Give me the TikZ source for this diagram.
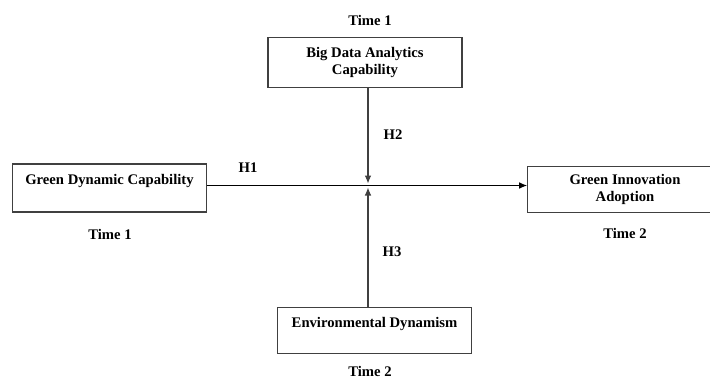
\documentclass[tikz,border=0pt]{standalone}
\usepackage{fontspec}
\setmainfont{Liberation Serif}
\usetikzlibrary{arrows.meta}

\begin{document}
\begin{tikzpicture}[x=0.75pt, y=-0.75pt, >={Latex[length=6pt, width=5pt]},
	every node/.style={font=\fontsize{11}{12.5}\selectfont\bfseries},
	construct/.style={draw=black!75, thick, rectangle, align=center, inner sep=2pt}]
	\useasboundingbox (0,0) rectangle (710,380);
	% constructs
	\node[construct, minimum width=145pt, minimum height=36pt] (gdc) at (109.5,188) {Green Dynamic Capability\\ \mbox{}};
	\node[construct, minimum width=145.5pt, minimum height=37pt] (bda) at (365,62.5) {Big Data Analytics\\Capability};
	\node[construct, minimum width=146pt, minimum height=35pt] (gia) at (625,189.5) {Green Innovation\\Adoption};
	\node[construct, minimum width=145pt, minimum height=35pt] (env) at (374.5,330.5) {Environmental Dynamism\\ \mbox{}};
	% time labels
	\node (t1a) at (370,20) {Time 1};
	\node (t1b) at (110,234) {Time 1};
	\node (t2a) at (625,233) {Time 2};
	\node (t2b) at (370,371) {Time 2};
	% paths
	\coordinate (hub) at (368,185.5);
	\draw[->, thick] (gdc.east |- hub) -- (gia.west |- hub);
	\draw[->, thick, black!75] (bda.south -| hub) -- ([yshift=1.5pt]hub);
	\draw[->, thick, black!75] (env.north -| hub) -- ([yshift=-1.5pt]hub);
	\node (h1) at (248,168) {H1};
	\node (h2) at (393,135) {H2};
	\node (h3) at (392,252) {H3};
\end{tikzpicture}
\end{document}
